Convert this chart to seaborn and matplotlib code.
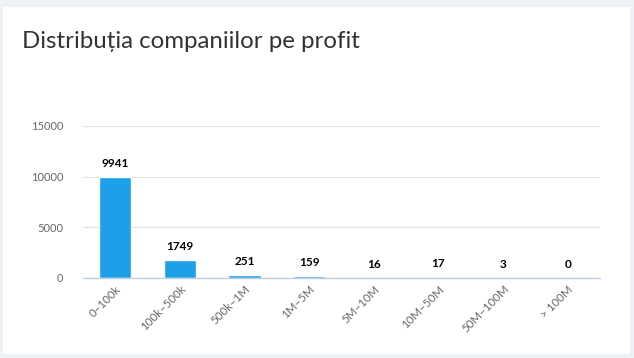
import matplotlib
matplotlib.use('Agg')
import matplotlib.pyplot as plt
import seaborn as sns
import pandas as pd
from matplotlib.patches import Rectangle

# Chart data
categories = ['0–100k', '100k–500k', '500k–1M', '1M–5M', '5M–10M',
              '10M–50M', '50M–100M', '> 100M']
counts = [9941, 1749, 251, 159, 16, 17, 3, 0]
y_ticks = [0, 5000, 10000, 15000]

df = pd.DataFrame({'interval': categories, 'companii': counts})

sns.set_theme(style='white')
plt.rcParams['font.family'] = ['Lato', 'DejaVu Sans']

fig = plt.figure(figsize=(6.34, 3.58), dpi=100)
fig.patch.set_facecolor('#eef1f5')
# white card behind everything
fig.patches.append(Rectangle((3 / 634, 4 / 358), 627 / 634, 347 / 358,
                             transform=fig.transFigure, facecolor='white',
                             edgecolor='none', zorder=-10))
fig.text(22 / 634, 1 - 42 / 358, 'Distribuția companiilor pe profit',
         fontsize=17.3, color='#333333', va='center', ha='left', zorder=5)

ax = fig.add_axes([83 / 634, 1 - 278 / 358, 517 / 634, 152 / 358])
ax.set_zorder(2)
ax.set_facecolor('white')
sns.barplot(data=df, x='interval', y='companii', color='#1d9fe9',
            width=0.5, saturation=1, ax=ax)

ax.set_ylim(0, 15000)
ax.set_yticks(y_ticks)
ax.set_yticklabels([str(t) for t in y_ticks])
ax.set_xlim(-0.5, len(categories) - 0.5)
ax.grid(axis='y', color='#e2e2e2', linewidth=0.8)
ax.set_axisbelow(True)
for s in ['top', 'right', 'left']:
    ax.spines[s].set_visible(False)
ax.spines['bottom'].set_color('#c0cfe0')
ax.spines['bottom'].set_linewidth(1)
ax.set_xlabel('')
ax.set_ylabel('')
ax.tick_params(axis='y', length=0, labelsize=8, labelcolor='#666666', pad=14)
ax.tick_params(axis='x', length=0, labelsize=8.3, labelcolor='#666666', pad=4)
for lbl in ax.get_xticklabels():
    lbl.set_rotation(45)
    lbl.set_ha('right')
    lbl.set_rotation_mode('anchor')

for i, v in enumerate(counts):
    ax.annotate(str(v), (i, v), xytext=(0, 6), textcoords='offset points',
                ha='center', va='bottom', fontsize=8.5, fontweight='bold',
                color='black')

fig.savefig('out.png', dpi=100, facecolor=fig.get_facecolor())
